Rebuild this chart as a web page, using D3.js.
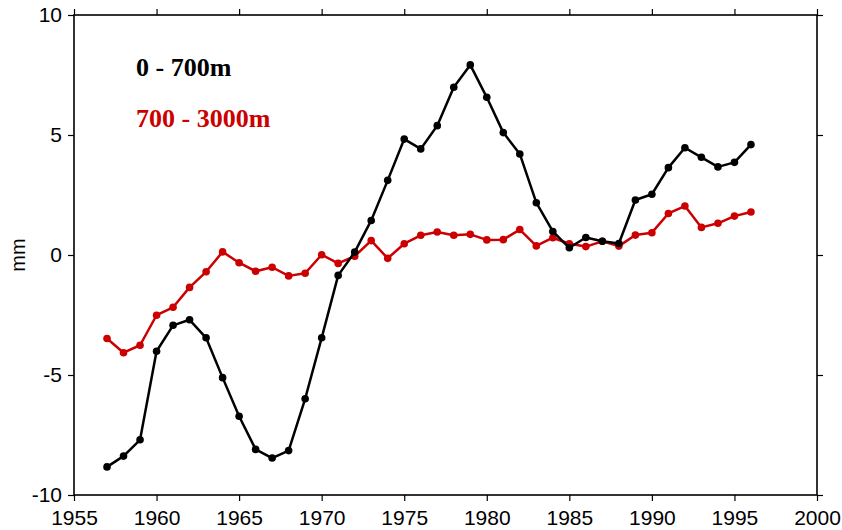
<!DOCTYPE html>
<html>
<head>
<meta charset="utf-8">
<script src="https://cdn.jsdelivr.net/npm/d3@7"></script>
<style>
  html, body { margin: 0; padding: 0; background: #fff; }
  svg { display: block; }
</style>
</head>
<body>
<svg id="chart" width="842" height="530"></svg>
<script>
const years = d3.range(1957, 1997);
const upper = [ // 0 - 700m
  -8.83, -8.38, -7.70, -4.01, -2.93, -2.70, -3.45, -5.11, -6.72, -8.10,
  -8.46, -8.15, -5.99, -3.45, -0.85, 0.12, 1.44, 3.11, 4.83, 4.42,
  5.39, 6.99, 7.92, 6.57, 5.10, 4.21, 2.18, 0.98, 0.30, 0.73,
  0.57, 0.48, 2.29, 2.53, 3.64, 4.47, 4.07, 3.67, 3.86, 4.60
];
const deep = [ // 700 - 3000m
  -3.48, -4.07, -3.76, -2.51, -2.18, -1.35, -0.70, 0.13, -0.32, -0.68,
  -0.51, -0.87, -0.76, 0.01, -0.35, -0.05, 0.60, -0.14, 0.47, 0.82,
  0.96, 0.82, 0.86, 0.63, 0.64, 1.06, 0.38, 0.72, 0.47, 0.35,
  0.57, 0.37, 0.83, 0.93, 1.73, 2.04, 1.15, 1.32, 1.62, 1.79
];
const xTicks = [1955, 1960, 1965, 1970, 1975, 1980, 1985, 1990, 1995, 2000];
const yTicks = [-10, -5, 0, 5, 10];
const seriesNames = ["0 - 700m", "700 - 3000m"];
const seriesColors = ["#000000", "#cc0000"];

const W = 842, H = 530;
const m = { left: 74, right: 25, top: 15, bottom: 35 };
const svg = d3.select("#chart");
const x = d3.scaleLinear().domain([1955, 2000]).range([m.left, W - m.right]);
const y = d3.scaleLinear().domain([-10, 10]).range([H - m.bottom, m.top]);

const axisFont = "Liberation Sans, Arial, Helvetica, sans-serif";
const plain = d => String(d);
function styleAxis(g) {
  g.select(".domain").remove();
  g.selectAll(".tick line").attr("stroke", "#000").attr("stroke-width", 1.2);
  g.selectAll(".tick text").attr("fill", "#000").style("font-family", axisFont).style("font-size", "21px");
}

svg.append("g").attr("transform", `translate(0,${H - m.bottom})`)
  .call(d3.axisBottom(x).tickValues(xTicks).tickFormat(plain).tickSize(6).tickPadding(9))
  .call(styleAxis);
svg.append("g").attr("transform", `translate(0,${m.top})`)
  .call(d3.axisTop(x).tickValues(xTicks).tickFormat("").tickSize(6))
  .call(styleAxis);
svg.append("g").attr("transform", `translate(${m.left},0)`)
  .call(d3.axisLeft(y).tickValues(yTicks).tickFormat(plain).tickSize(6).tickPadding(6))
  .call(styleAxis);
svg.append("g").attr("transform", `translate(${W - m.right},0)`)
  .call(d3.axisRight(y).tickValues(yTicks).tickFormat("").tickSize(6))
  .call(styleAxis);

svg.append("rect")
  .attr("x", m.left).attr("y", m.top)
  .attr("width", W - m.left - m.right).attr("height", H - m.top - m.bottom)
  .attr("fill", "none").attr("stroke", "#000").attr("stroke-width", 1.6);

svg.append("text")
  .attr("transform", `translate(25,${y(0)}) rotate(-90)`)
  .attr("text-anchor", "middle")
  .style("font-family", axisFont).style("font-size", "20px")
  .text("mm");

const line = d3.line().x((d, i) => x(years[i])).y(d => y(d));
[deep, upper].forEach((vals, k) => {
  const color = k === 0 ? seriesColors[1] : seriesColors[0];
  svg.append("path").datum(vals)
    .attr("d", line).attr("fill", "none")
    .attr("stroke", color).attr("stroke-width", 2.5).attr("stroke-linejoin", "round");
  svg.append("g").selectAll("circle").data(vals).join("circle")
    .attr("cx", (d, i) => x(years[i])).attr("cy", d => y(d))
    .attr("r", 3.8).attr("fill", color);
});

const legendFont = "Liberation Serif, Times New Roman, serif";
svg.append("text").attr("x", 136).attr("y", 76)
  .style("font-family", legendFont).style("font-weight", "bold").style("font-size", "26px")
  .attr("fill", seriesColors[0]).text(seriesNames[0]);
svg.append("text").attr("x", 136).attr("y", 127)
  .style("font-family", legendFont).style("font-weight", "bold").style("font-size", "26px")
  .attr("fill", seriesColors[1]).text(seriesNames[1]);
</script>
</body>
</html>
